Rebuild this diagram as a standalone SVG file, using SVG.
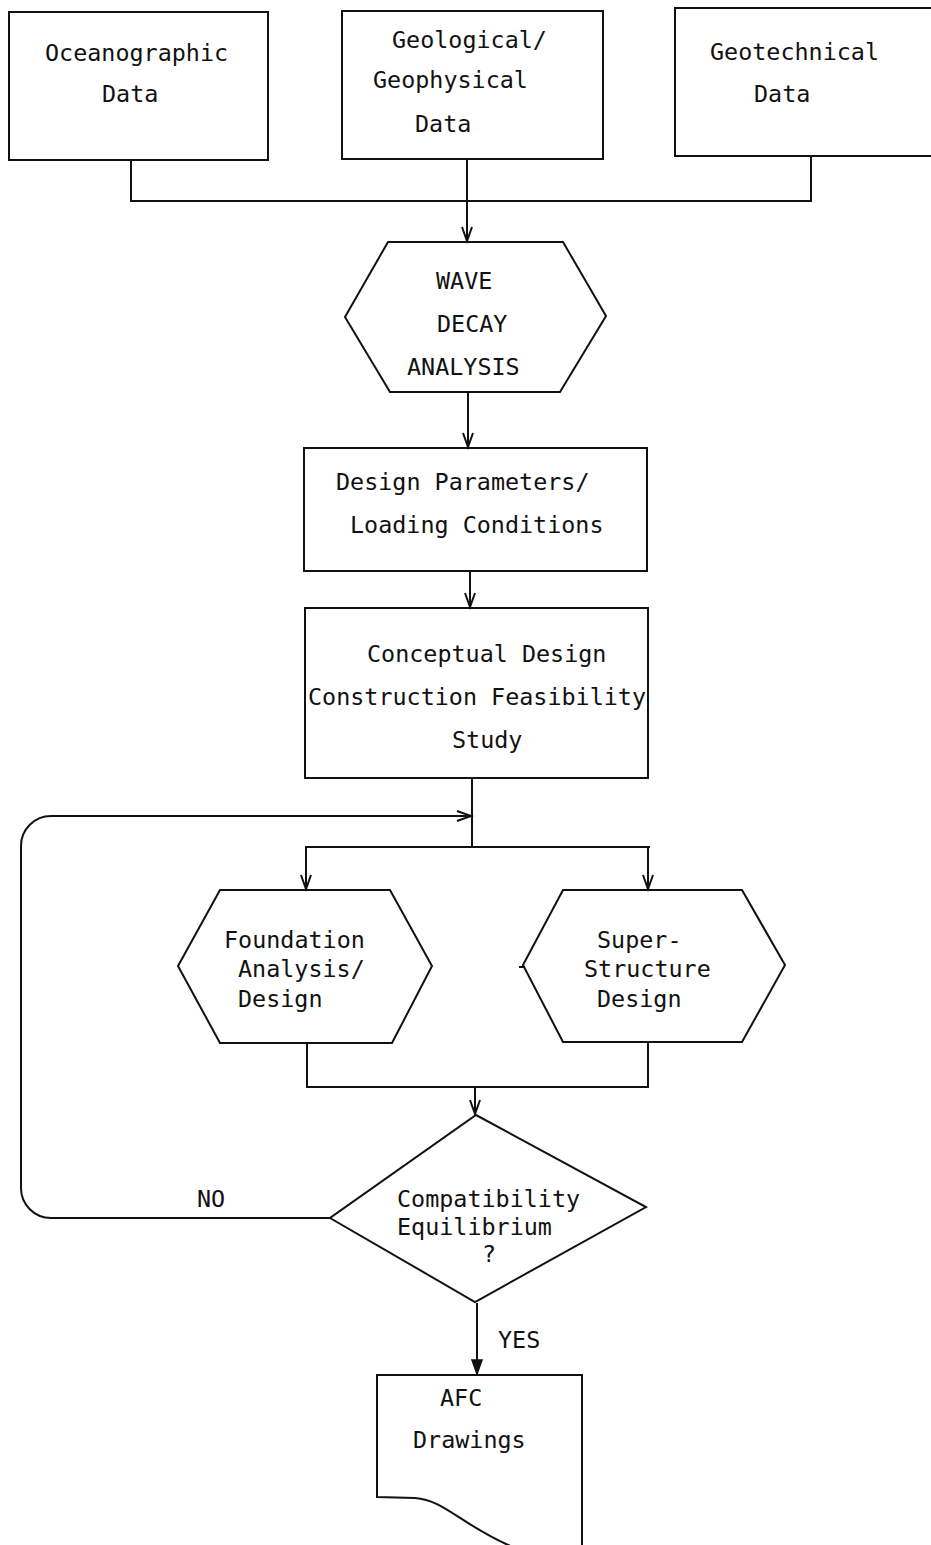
<svg xmlns="http://www.w3.org/2000/svg" width="931" height="1545" viewBox="0 0 931 1545">
<style>
.s{fill:none;stroke:#111;stroke-width:2;stroke-linejoin:miter}
.t{font-family:"DejaVu Sans Mono","Liberation Mono",monospace;font-size:23.4px;fill:#111}
.c{fill:none;stroke:#111;stroke-width:2}
</style>
<defs>
<marker id="a" markerUnits="userSpaceOnUse" markerWidth="20" markerHeight="20" refX="0" refY="0" orient="auto" overflow="visible">
<path d="M-14,-5 L0,0 L-14,5" fill="none" stroke="#111" stroke-width="2"/>
</marker>
<marker id="f" markerUnits="userSpaceOnUse" markerWidth="20" markerHeight="20" refX="0" refY="0" orient="auto" overflow="visible">
<path d="M-14,-5 L0,0 L-14,5 Z" fill="#111" stroke="#111" stroke-width="1.5"/>
</marker>
</defs>
<rect width="931" height="1545" fill="#fff"/>

<g id="oceanographic">
<rect class="s" x="9" y="12" width="259" height="148"/>
<text class="t" x="45" y="61">Oceanographic</text>
<text class="t" x="102" y="102">Data</text>
</g>
<g id="geological">
<rect class="s" x="342" y="11" width="261" height="148"/>
<text class="t" x="392" y="48">Geological/</text>
<text class="t" x="373" y="88">Geophysical</text>
<text class="t" x="415" y="132">Data</text>
</g>
<g id="geotechnical">
<rect class="s" x="675" y="8" width="270" height="148"/>
<text class="t" x="710" y="60">Geotechnical</text>
<text class="t" x="754" y="102">Data</text>
</g>

<g id="wave">
<polygon class="s" points="388,242 563,242 606,316 560,392 390,392 345,317"/>
<text class="t" x="436" y="289">WAVE</text>
<text class="t" x="437" y="332">DECAY</text>
<text class="t" x="407" y="375">ANALYSIS</text>
</g>

<g id="design-params">
<rect class="s" x="304" y="448" width="343" height="123"/>
<text class="t" x="336" y="490">Design Parameters/</text>
<text class="t" x="350" y="533">Loading Conditions</text>
</g>

<g id="conceptual">
<rect class="s" x="305" y="608" width="343" height="170"/>
<text class="t" x="367" y="662">Conceptual Design</text>
<text class="t" x="308" y="705">Construction Feasibility</text>
<text class="t" x="452" y="748">Study</text>
</g>

<g id="foundation">
<polygon class="s" points="220,890 390,890 432,966 392,1043 220,1043 178,966"/>
<text class="t" x="224" y="948">Foundation</text>
<text class="t" x="238" y="977">Analysis/</text>
<text class="t" x="238" y="1007">Design</text>
</g>

<g id="superstructure">
<polygon class="s" points="563,890 742,890 785,965 742,1042 563,1042 523,965"/>
<line class="s" x1="519" y1="967" x2="525" y2="967"/>
<text class="t" x="597" y="948">Super-</text>
<text class="t" x="584" y="977">Structure</text>
<text class="t" x="597" y="1007">Design</text>
</g>

<g id="decision">
<polygon class="s" points="476,1115 646,1207 475,1302 330,1218"/>
<text class="t" x="397" y="1207">Compatibility</text>
<text class="t" x="397" y="1235">Equilibrium</text>
<text class="t" x="482" y="1262">?</text>
</g>

<g id="afc">
<path class="s" d="M582,1550 V1375 H377 V1497 L415,1498 C445,1500 462,1526 515,1548"/>
<text class="t" x="440" y="1406">AFC</text>
<text class="t" x="413" y="1448">Drawings</text>
</g>

<g id="connectors">
<polyline class="c" points="131,160 131,201 811,201 811,156"/>
<line class="c" x1="467" y1="159" x2="467" y2="241" marker-end="url(#a)"/>
<line class="c" x1="468" y1="392" x2="468" y2="447" marker-end="url(#a)"/>
<line class="c" x1="470" y1="571" x2="470" y2="607" marker-end="url(#a)"/>
<line class="c" x1="472" y1="778" x2="472" y2="847"/>
<path class="c" d="M330,1218 H51 A30,30 0 0 1 21,1188 V846 A30,30 0 0 1 51,816 H471" marker-end="url(#a)"/>
<polyline class="c" points="306,889 306,847 650,847"/>
<line class="c" x1="306" y1="847" x2="306" y2="889" marker-end="url(#a)"/>
<line class="c" x1="648" y1="847" x2="648" y2="889" marker-end="url(#a)"/>
<polyline class="c" points="307,1043 307,1087 648,1087 648,1042"/>
<line class="c" x1="475" y1="1087" x2="475" y2="1114" marker-end="url(#a)"/>
<line class="c" x1="477" y1="1303" x2="477" y2="1374" marker-end="url(#f)"/>
<text class="t" x="197" y="1207">NO</text>
<text class="t" x="498" y="1348">YES</text>
</g>
</svg>
